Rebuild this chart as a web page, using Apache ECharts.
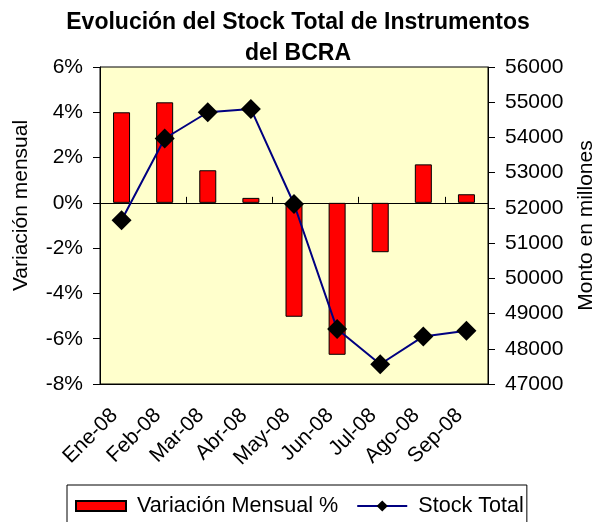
<!DOCTYPE html>
<html><head><meta charset="utf-8">
<script src="https://cdn.jsdelivr.net/npm/echarts@6/dist/echarts.min.js"></script>
<style>html,body{margin:0;padding:0;background:#fff}#c{width:596px;height:522px}</style>
</head><body><div id="c"></div>
<script>
const categories = ['Ene-08','Feb-08','Mar-08','Abr-08','May-08','Jun-08','Jul-08','Ago-08','Sep-08'];
const variacionMensual = [4.0, 4.44, 1.44, 0.22, -5.03, -6.71, -2.18, 1.70, 0.38];
const stockTotal = [51650, 53970, 54715, 54810, 52110, 48560, 47560, 48350, 48510];
const leftAxis = {min: -8, max: 6, interval: 2};
const rightAxis = {min: 47000, max: 56000, interval: 1000};
const FONT = 'Liberation Sans, Arial, sans-serif';

const chart = echarts.init(document.getElementById('c'), null, {renderer: 'canvas'});
chart.setOption({
  animation: false,
  backgroundColor: '#ffffff',
  textStyle: {fontFamily: FONT, color: '#000'},
  title: {
    text: 'Evolución del Stock Total de Instrumentos\ndel BCRA',
    left: 'center', top: 2,
    textStyle: {fontFamily: FONT, fontSize: 23, fontWeight: 'bold', color: '#000', lineHeight: 31}
  },
  grid: {left: 100, right: 108, top: 67, bottom: 138, show: true, outerBoundsMode: 'none',
         containLabel: false,
         backgroundColor: '#FFFFCC', borderColor: '#000', borderWidth: 1},
  legend: {
    left: 67, top: 485, itemWidth: 50, itemHeight: 14, itemGap: 18,
    padding: [10, 3, 20, 8], borderColor: '#000', borderWidth: 1,
    symbolKeepAspect: true,
    textStyle: {fontFamily: FONT, fontSize: 21.6, color: '#000', padding: [0, 0, 0, 6]},
    data: [{name: 'Variación Mensual %', icon: 'path://M0,0H50V10H0Z'}, {name: 'Stock Total'}]
  },
  xAxis: [
    {type: 'category', data: categories, position: 'bottom',
     axisLine: {onZero: false, lineStyle: {color: '#000'}},
     axisTick: {show: false},
     axisLabel: {rotate: 45, fontSize: 21, color: '#000', fontFamily: FONT, margin: 21,
                 padding: [0, 10, 0, 0], interval: 0}},
    {type: 'category', data: categories, position: 'top',
     axisLine: {onZero: true, lineStyle: {color: '#000'}},
     axisTick: {show: true, length: 6, lineStyle: {color: '#000'}},
     axisLabel: {show: false}}
  ],
  yAxis: [
    {type: 'value', position: 'left', min: leftAxis.min, max: leftAxis.max, interval: leftAxis.interval,
     name: 'Variación mensual', nameLocation: 'middle', nameGap: 68, nameRotate: 90,
     nameTextStyle: {fontSize: 21, color: '#000', fontFamily: FONT, padding: [0, 0, 0, 40]},
     axisLine: {show: true, lineStyle: {color: '#000'}},
     axisTick: {show: true, length: 7, lineStyle: {color: '#000'}},
     splitLine: {show: false},
     axisLabel: {formatter: '{value}%', fontSize: 21, color: '#000', fontFamily: FONT, margin: 17}},
    {type: 'value', position: 'right', min: rightAxis.min, max: rightAxis.max, interval: rightAxis.interval,
     name: 'Monto en millones', nameLocation: 'middle', nameGap: 88, nameRotate: 90,
     nameTextStyle: {fontSize: 21, color: '#000', fontFamily: FONT},
     axisLine: {show: true, lineStyle: {color: '#000'}},
     axisTick: {show: true, length: 7, lineStyle: {color: '#000'}},
     splitLine: {show: false},
     axisLabel: {formatter: v => String(v), fontSize: 21, color: '#000', fontFamily: FONT, margin: 17}}
  ],
  series: [
    {name: 'Variación Mensual %', type: 'bar', xAxisIndex: 0, yAxisIndex: 0,
     data: variacionMensual, barWidth: 17,
     itemStyle: {color: '#FF0000', borderColor: '#000', borderWidth: 1}},
    {name: 'Stock Total', type: 'line', xAxisIndex: 0, yAxisIndex: 1,
     data: stockTotal, symbol: 'diamond', symbolSize: 20, z: 5,
     itemStyle: {color: '#000'}, lineStyle: {color: '#000080', width: 2}}
  ]
});
</script></body></html>
